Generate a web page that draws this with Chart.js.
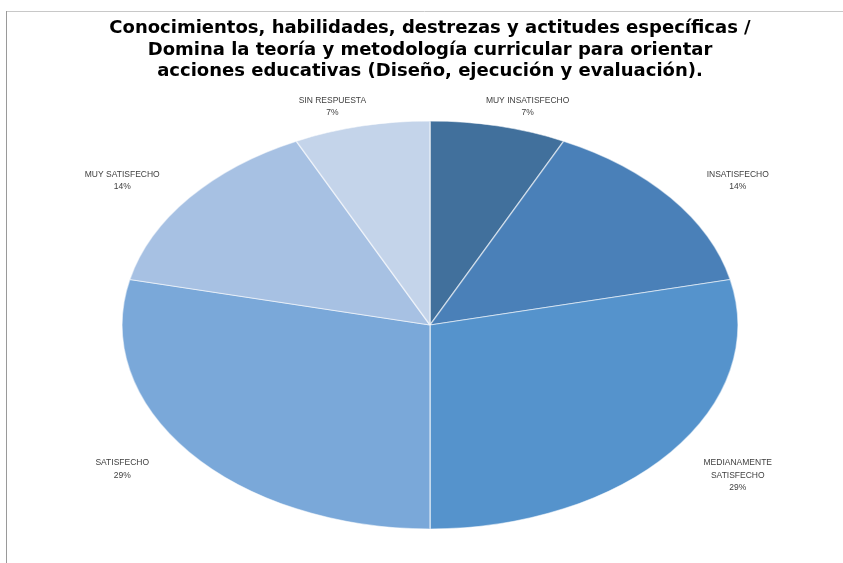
<!DOCTYPE html>
<html>
<head>
<meta charset="utf-8">
<script src="https://cdn.jsdelivr.net/npm/chart.js@4.4.0/dist/chart.umd.min.js"></script>
<style>
  body { margin: 0; background: #fff; }
  canvas { display: block; }
</style>
</head>
<body>
<canvas id="pieChart" width="843" height="563"></canvas>
<script>
// data
const categories = ['MUY INSATISFECHO', 'INSATISFECHO', 'MEDIANAMENTE SATISFECHO', 'SATISFECHO', 'MUY SATISFECHO', 'SIN RESPUESTA'];
const counts = [1, 2, 4, 4, 2, 1];
const sliceColors = ['#41709C', '#4A80B8', '#5593CC', '#7AA8D9', '#A7C1E3', '#C4D4EA'];
const titleLines = [
    'Conocimientos, habilidades, destrezas y actitudes específicas /',
    'Domina la teoría y metodología curricular para orientar',
    'acciones educativas (Diseño, ejecución y evaluación).'
];

const total = counts.reduce((a, b) => a + b, 0);
const stretchX = 308 / 204;   // excel draws the pie as an ellipse

// frame lines of the original screenshot
const framePlugin = {
    id: 'frame',
    beforeDraw(chart) {
        const c = chart.ctx;
        c.save();
        c.lineWidth = 1;
        c.strokeStyle = '#c8c8c8';
        c.beginPath();
        c.moveTo(6, 11.5);
        c.lineTo(chart.width, 11.5);
        c.stroke();
        c.strokeStyle = '#9a9a9a';
        c.beginPath();
        c.moveTo(6.5, 11);
        c.lineTo(6.5, chart.height);
        c.stroke();
        c.restore();
    }
};

function wrapText(c, text, maxW) {
    const words = text.split(' ');
    const lines = [];
    let cur = '';
    words.forEach(w => {
        const test = cur ? cur + ' ' + w : w;
        if (cur && c.measureText(test).width > maxW) {
            lines.push(cur);
            cur = w;
        } else {
            cur = test;
        }
    });
    if (cur) lines.push(cur);
    return lines;
}

// squash the circle into an ellipse and write the outside labels
const ellipsePlugin = {
    id: 'ellipse',
    beforeDatasetsDraw(chart) {
        const arc = chart.getDatasetMeta(0).data[0];
        const c = chart.ctx;
        c.save();
        c.translate(arc.x, arc.y);
        c.scale(stretchX, 1);
        c.translate(-arc.x, -arc.y);
    },
    afterDatasetsDraw(chart) {
        const c = chart.ctx;
        c.restore();
        c.save();
        c.font = '8.5px "Liberation Sans", sans-serif';
        c.fillStyle = '#404040';
        c.textAlign = 'center';
        c.textBaseline = 'middle';
        const lh = 12.5;
        chart.getDatasetMeta(0).data.forEach((arc, i) => {
            const mid = (arc.startAngle + arc.endAngle) / 2;
            const r = arc.outerRadius;
            const cosA = Math.cos(mid), sinA = Math.sin(mid);
            const lines = wrapText(c, categories[i], 100);
            lines.push(Math.round(counts[i] / total * 100) + '%');
            const boxH = lines.length * lh;
            const lx = arc.x + cosA * r * stretchX * 1.22 + Math.sign(cosA) * 14;
            const ly = arc.y + sinA * r * 1.035 + Math.sign(sinA) * boxH / 2;
            const y0 = ly - (lines.length - 1) * lh / 2;
            lines.forEach((t, k) => c.fillText(t, lx, y0 + k * lh));
        });
        c.restore();
    }
};

const ctx = document.getElementById('pieChart').getContext('2d');
new Chart(ctx, {
    type: 'pie',
    data: {
        labels: categories,
        datasets: [{
            data: counts,
            backgroundColor: sliceColors,
            borderColor: 'rgba(255,255,255,0.55)',
            borderWidth: 1
        }]
    },
    options: {
        responsive: false,
        animation: false,
        radius: 204,
        layout: { padding: { left: 17, right: 0, top: 0, bottom: 0 } },
        plugins: {
            legend: { display: false },
            tooltip: { enabled: false },
            title: {
                display: true,
                text: titleLines,
                color: '#000',
                font: { family: '"DejaVu Sans", sans-serif', size: 18, weight: 'bold', lineHeight: 1.2 },
                padding: { top: 17.5, bottom: 4.7 }
            }
        }
    },
    plugins: [framePlugin, ellipsePlugin]
});
</script>
</body>
</html>
